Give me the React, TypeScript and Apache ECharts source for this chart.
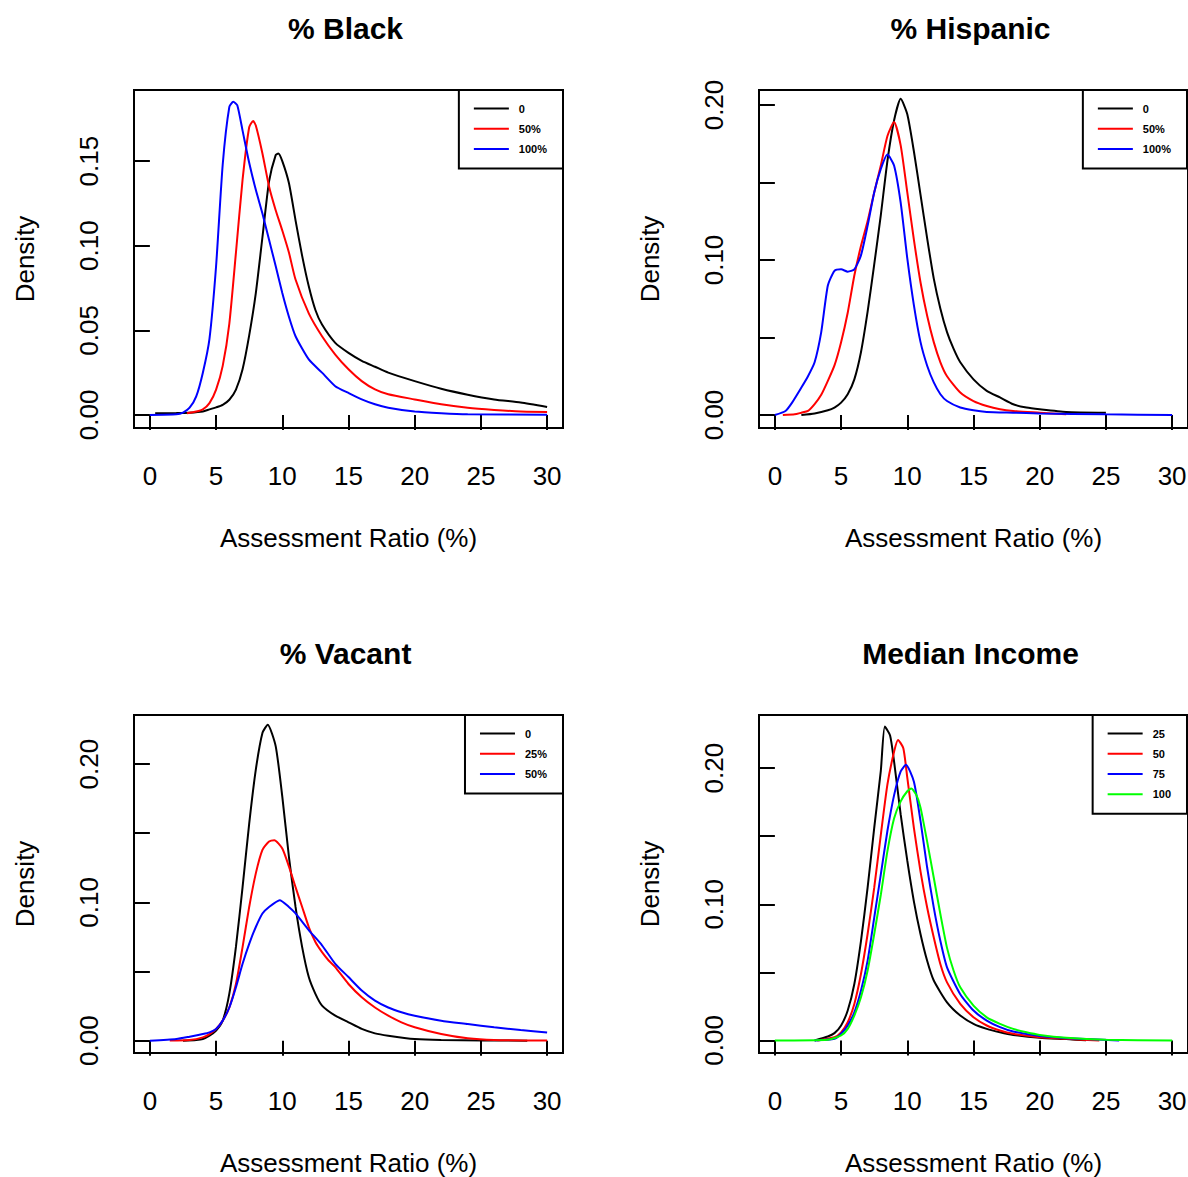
import React, { useEffect, useRef } from 'react';
import * as echarts from 'echarts';

// ---------- Axis ticks / labels ----------
const X_TICKS = [0, 5, 10, 15, 20, 25, 30];
const Y_TICKS_BLACK = [0, 0.05, 0.1, 0.15];
const Y_LABELS_BLACK = [0, 0.05, 0.1, 0.15];
const Y_TICKS_OTHER = [0, 0.05, 0.1, 0.15, 0.2];
const Y_LABELS_OTHER = [0, 0.1, 0.2];

// ---------- % Black ----------
const black_0 = [[0.4,0.001],[2,0.0011],[3,0.0013],[4,0.002],[4.5,0.0033],[5,0.0045],[5.5,0.006],[6,0.009],[6.5,0.015],[7,0.027],[7.5,0.047],[8,0.072],[8.5,0.105],[9,0.138],[9.5,0.1535],[9.7,0.1545],[10,0.15],[10.5,0.137],[11,0.115],[11.5,0.094],[12,0.076],[12.5,0.062],[13,0.0534],[14,0.0426],[15,0.0367],[16,0.032],[17,0.0285],[18,0.025],[20,0.02],[22,0.0155],[24,0.012],[26,0.0092],[28,0.0073],[30,0.0047]];
const black_50 = [[2.8,0.001],[3.5,0.002],[4,0.0033],[4.5,0.007],[5,0.015],[5.5,0.029],[6,0.054],[6.5,0.096],[7,0.139],[7.5,0.17],[7.8,0.1737],[8,0.171],[8.5,0.1545],[9,0.135],[9.5,0.121],[10,0.109],[10.5,0.096],[11,0.08],[12,0.06],[13,0.0465],[14,0.0357],[15,0.027],[16,0.02],[17,0.0151],[18,0.0122],[20,0.0092],[22,0.0063],[24,0.0043],[26,0.003],[28,0.002],[30,0.0018]];
const black_100 = [[0,0],[2,0.0004],[2.5,0.0014],[3,0.0043],[3.5,0.011],[4,0.025],[4.5,0.045],[5,0.088],[5.5,0.148],[6,0.182],[6.3,0.185],[6.6,0.183],[7,0.168],[7.5,0.149],[8,0.133],[8.5,0.119],[9,0.1035],[9.5,0.088],[10,0.072],[10.5,0.058],[11,0.0465],[12,0.0328],[13,0.025],[14,0.017],[15,0.013],[16,0.0092],[17,0.0063],[18,0.0043],[20,0.002],[22,0.001],[24,0.0004],[30,0.0002]];

// ---------- % Hispanic ----------
const hisp_0 = [[2,0],[3,0.001],[4,0.003],[4.5,0.0048],[5,0.008],[5.5,0.0134],[6,0.023],[6.5,0.0405],[7,0.0665],[7.5,0.097],[8,0.129],[8.5,0.164],[9,0.19],[9.5,0.204],[10,0.194],[10.5,0.17],[11,0.142],[11.5,0.114],[12,0.088],[12.5,0.0686],[13,0.0535],[13.5,0.0426],[14,0.034],[15,0.023],[16,0.0156],[17,0.0113],[18,0.0069],[19,0.0048],[20,0.0037],[22,0.002],[25,0.0015]];
const hisp_50 = [[0.6,0],[1.5,0.0004],[2,0.0015],[2.5,0.0026],[3,0.007],[3.5,0.013],[4,0.022],[4.5,0.032],[5,0.047],[5.5,0.066],[6,0.09],[6.5,0.109],[7,0.125],[7.5,0.1436],[8,0.161],[8.5,0.18],[9,0.189],[9.5,0.174],[10,0.1436],[10.5,0.113],[11,0.0855],[11.5,0.064],[12,0.047],[12.5,0.034],[13,0.025],[14,0.0145],[15,0.009],[16,0.0058],[17,0.0037],[18,0.0026],[20,0.0015],[22,0.0004]];
const hisp_100 = [[0,0],[0.8,0.0026],[1.3,0.008],[2,0.0177],[2.5,0.025],[3,0.034],[3.5,0.0535],[4,0.0835],[4.5,0.093],[5,0.094],[5.5,0.0925],[6,0.094],[6.5,0.103],[7,0.122],[7.5,0.1436],[8,0.1587],[8.5,0.168],[9,0.161],[9.5,0.137],[10,0.101],[10.5,0.0707],[11,0.047],[11.5,0.0318],[12,0.021],[12.5,0.0134],[13,0.009],[14,0.0048],[15,0.003],[16,0.002],[18,0.0015],[20,0.001],[25,0.0004],[30,0]];

// ---------- % Vacant ----------
const vac_0 = [[2.5,0],[3.5,0.0005],[4,0.0012],[4.5,0.0036],[5,0.0073],[5.5,0.0145],[6,0.034],[6.5,0.068],[7,0.111],[7.5,0.157],[8,0.196],[8.5,0.2225],[8.9,0.2285],[9.5,0.213],[10,0.1765],[10.5,0.133],[11,0.0967],[11.5,0.0677],[12,0.046],[12.5,0.0339],[13,0.0254],[14,0.0181],[15,0.0133],[16,0.0085],[17,0.0053],[18,0.0036],[20,0.0012],[22,0.0005],[28.5,0]];
const vac_25 = [[1.5,0.0001],[3,0.0005],[4,0.0024],[4.5,0.0048],[5,0.0085],[5.5,0.0145],[6,0.024],[6.5,0.041],[7,0.0677],[7.5,0.0967],[8,0.121],[8.5,0.138],[9,0.144],[9.4,0.145],[10,0.139],[10.5,0.126],[11,0.111],[11.5,0.0967],[12,0.0822],[12.5,0.0713],[13,0.064],[13.5,0.058],[14,0.0532],[15,0.041],[16,0.0314],[17,0.024],[18,0.0181],[19,0.0133],[20,0.0097],[22,0.0048],[24,0.0017],[26,0.0005],[30,0.0001]];
const vac_50 = [[0,0],[2,0.0012],[3,0.0029],[4,0.0048],[4.5,0.006],[5,0.0085],[5.5,0.0145],[6,0.024],[6.5,0.0387],[7,0.0556],[7.5,0.07],[8,0.0822],[8.5,0.092],[9,0.0967],[9.8,0.1016],[10.5,0.0967],[11,0.092],[12,0.08],[13,0.069],[14,0.0556],[15,0.046],[16,0.0363],[17,0.029],[18,0.024],[19,0.0206],[20,0.0181],[22,0.0145],[24,0.0121],[26,0.0097],[28,0.0077],[30,0.006]];

// ---------- Median Income ----------
const inc_25 = [[3,0],[4,0.0029],[4.5,0.0054],[5,0.011],[5.5,0.022],[6,0.0415],[6.5,0.073],[7,0.112],[7.5,0.156],[8,0.198],[8.3,0.2305],[8.7,0.224],[9,0.205],[9.5,0.166],[10,0.132],[10.5,0.102],[11,0.078],[11.5,0.0585],[12,0.044],[13,0.028],[14,0.0183],[15,0.0122],[16,0.0085],[17,0.006],[18,0.0041],[20,0.002],[22,0.001],[23.5,0.0001]];
const inc_50 = [[3.2,0],[4.5,0.0024],[5,0.006],[5.5,0.0134],[6,0.0268],[6.5,0.0488],[7,0.078],[7.5,0.112],[8,0.151],[8.5,0.188],[9,0.212],[9.3,0.2207],[9.7,0.2146],[10,0.193],[10.5,0.156],[11,0.124],[11.5,0.0976],[12,0.0756],[12.5,0.056],[13,0.0427],[14,0.0268],[15,0.017],[16,0.011],[17,0.0073],[18,0.0049],[20,0.0024],[22,0.0012],[24.5,0]];
const inc_75 = [[3,0],[4.5,0.0012],[5,0.0049],[5.5,0.011],[6,0.0207],[6.5,0.0366],[7,0.0585],[7.5,0.09],[8,0.122],[8.5,0.154],[9,0.18],[9.5,0.1976],[9.9,0.2024],[10.5,0.19],[11,0.161],[11.5,0.127],[12,0.0976],[12.5,0.073],[13,0.0537],[14,0.034],[15,0.022],[16,0.0146],[17,0.0098],[18,0.0066],[20,0.0032],[22,0.0017],[26,0]];
const inc_100 = [[0,0],[4,0.0005],[5,0.0037],[5.5,0.0085],[6,0.0183],[6.5,0.0317],[7,0.0512],[7.5,0.078],[8,0.107],[8.5,0.139],[9,0.163],[9.5,0.1756],[10,0.183],[10.3,0.185],[10.7,0.18],[11,0.171],[11.5,0.146],[12,0.1195],[12.5,0.0927],[13,0.068],[13.5,0.0512],[14,0.039],[15,0.0256],[16,0.017],[17,0.0122],[18,0.0085],[19,0.006],[20,0.0041],[22,0.002],[25,0.0005],[30,0]];

const BLACK = '#000000';
const RED = '#ff0000';
const BLUE = '#0000ff';
const GREEN = '#00ff00';
const FONT = '"Liberation Sans", Arial, Helvetica, sans-serif';

const PANELS = [
  {
    title: '% Black', left: 134, top: 90, yMin: -0.0077, yMax: 0.192,
    yTicks: Y_TICKS_BLACK, yLabels: Y_LABELS_BLACK, legendRight: 625,
    series: [
      { label: '0', color: BLACK, data: black_0 },
      { label: '50%', color: RED, data: black_50 },
      { label: '100%', color: BLUE, data: black_100 },
    ],
  },
  {
    title: '% Hispanic', left: 759, top: 90, yMin: -0.0084, yMax: 0.2097,
    yTicks: Y_TICKS_OTHER, yLabels: Y_LABELS_OTHER, legendRight: 1,
    series: [
      { label: '0', color: BLACK, data: hisp_0 },
      { label: '50%', color: RED, data: hisp_50 },
      { label: '100%', color: BLUE, data: hisp_100 },
    ],
  },
  {
    title: '% Vacant', left: 134, top: 715, yMin: -0.0089, yMax: 0.2355,
    yTicks: Y_TICKS_OTHER, yLabels: Y_LABELS_OTHER, legendRight: 625,
    series: [
      { label: '0', color: BLACK, data: vac_0 },
      { label: '25%', color: RED, data: vac_25 },
      { label: '50%', color: BLUE, data: vac_50 },
    ],
  },
  {
    title: 'Median Income', left: 759, top: 715, yMin: -0.0092, yMax: 0.239,
    yTicks: Y_TICKS_OTHER, yLabels: Y_LABELS_OTHER, legendRight: 1,
    series: [
      { label: '25', color: BLACK, data: inc_25 },
      { label: '50', color: RED, data: inc_50 },
      { label: '75', color: BLUE, data: inc_75 },
      { label: '100', color: GREEN, data: inc_100 },
    ],
  },
];

const GRID_W = 429;
const GRID_H = 338;

function buildOption() {
  const text = { color: '#000', fontFamily: FONT };
  const grid = PANELS.map((p) => ({
    left: p.left, top: p.top, width: GRID_W, height: GRID_H,
    show: true, borderColor: '#000', borderWidth: 2, backgroundColor: 'transparent',
    containLabel: false, outerBoundsMode: 'none',
  }));
  const xAxis = PANELS.map((p, i) => ({
    type: 'value', gridIndex: i, min: -1.2, max: 31.2,
    axisLine: { show: false },
    splitLine: { show: false },
    axisTick: { show: true, customValues: X_TICKS, length: 15, lineStyle: { color: '#000', width: 2 } },
    axisLabel: { customValues: X_TICKS, fontSize: 26, margin: 35, ...text },
    name: 'Assessment Ratio (%)', nameLocation: 'middle', nameGap: 97,
    nameTextStyle: { fontSize: 26, ...text },
  }));
  const yAxis = PANELS.map((p, i) => ({
    type: 'value', gridIndex: i, min: p.yMin, max: p.yMax,
    axisLine: { show: false },
    splitLine: { show: false },
    axisTick: { show: true, customValues: p.yTicks, length: 15, lineStyle: { color: '#000', width: 2 } },
    axisLabel: { customValues: p.yLabels, rotate: 90, fontSize: 26, margin: 32, formatter: (v: number) => v.toFixed(2), ...text },
    name: 'Density', nameLocation: 'middle', nameGap: 96,
    nameTextStyle: { fontSize: 26, ...text },
  }));
  const series: any[] = [];
  PANELS.forEach((p, i) => {
    p.series.forEach((s) => {
      series.push({
        type: 'line', name: p.title + '|' + s.label, xAxisIndex: i, yAxisIndex: i,
        data: s.data, showSymbol: false, symbol: 'none', smooth: 0.2,
        lineStyle: { color: s.color, width: 2 }, itemStyle: { color: s.color },
        silent: true,
      });
    });
  });
  const legend = PANELS.map((p) => ({
    orient: 'vertical', right: p.legendRight, top: p.top,
    data: p.series.map((s) => p.title + '|' + s.label),
    formatter: (name: string) => name.split('|')[1],
    borderColor: '#000', borderWidth: 2, backgroundColor: '#fff',
    padding: [13, 16, 14, 14], itemWidth: 35, itemHeight: 14, itemGap: 9,
    selectedMode: false,
    itemStyle: { opacity: 0 },
    lineStyle: { width: 2 },
    textStyle: { fontSize: 11, fontWeight: 'bold', padding: [0, 0, 0, 5], ...text },
  }));
  const title = PANELS.map((p) => ({
    text: p.title, left: p.left + GRID_W / 2 - 8, top: p.top - 82, textAlign: 'center',
    textStyle: { fontSize: 30, fontWeight: 'bold', ...text },
  }));
  return { animation: false, backgroundColor: '#fff', title, legend, grid, xAxis, yAxis, series };
}

export default function App() {
  const ref = useRef<HTMLDivElement>(null);
  useEffect(() => {
    document.body.style.margin = '0';
    if (!ref.current) return;
    const chart = echarts.init(ref.current, null, { renderer: 'svg' });
    chart.setOption(buildOption() as any);
    return () => chart.dispose();
  }, []);
  return <div ref={ref} style={{ width: 1188, height: 1177 }} />;
}
